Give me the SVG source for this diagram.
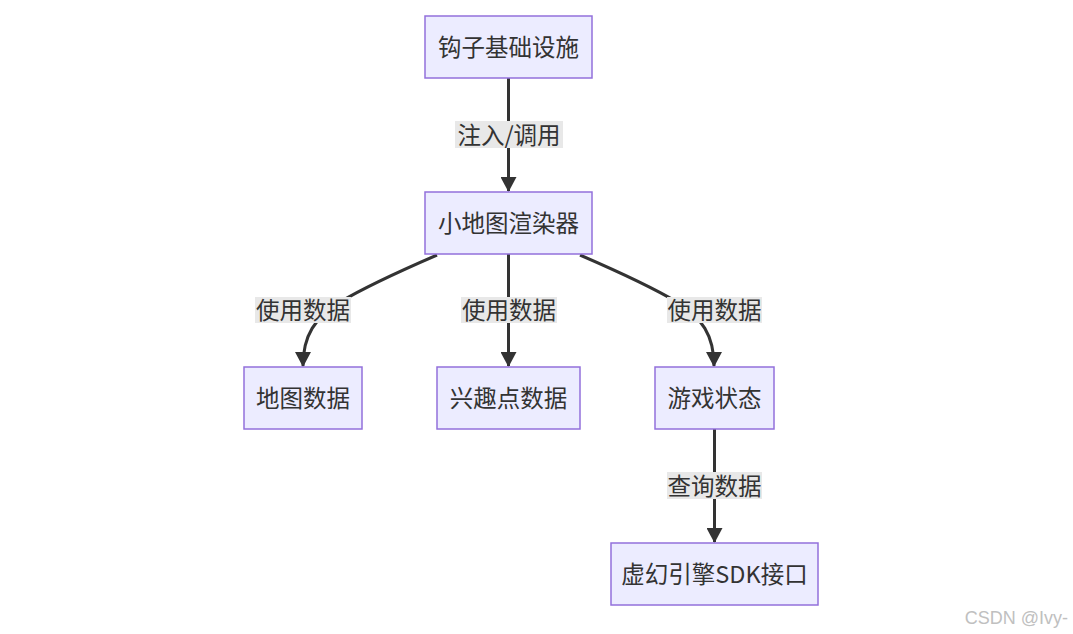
<svg xmlns="http://www.w3.org/2000/svg" width="1073" height="634" viewBox="0 0 1073 634">
<style>
.node rect{fill:#ECECFF;stroke:#9370DB;stroke-width:1.5}
.node text,.lbl text{font-family:"Noto Sans CJK SC","Noto Sans",sans-serif;font-size:23.5px;fill:#333;text-anchor:middle;dominant-baseline:central}
.edge{fill:none;stroke:#333;stroke-width:3;marker-end:url(#arr)}
.lbl rect{fill:#E8E8E8}
</style>
<defs>
<marker id="arr" markerUnits="userSpaceOnUse" markerWidth="15" markerHeight="16" viewBox="0 0 15 16" refX="14" refY="8" orient="auto">
<path d="M0,0 L15,8 L0,16 z" fill="#333"/>
</marker>
</defs>
<rect width="1073" height="634" fill="#fff"/>
<g id="edges">
<path class="edge" d="M508.5,78 L508.5,191"/>
<path class="edge" d="M437,255 C400,271 365,287 340,302 C315,318 303,335 303,366"/>
<path class="edge" d="M508.5,254 L508.5,366"/>
<path class="edge" d="M580,255 C617,271 652,287 677,302 C702,318 714,335 714,366"/>
<path class="edge" d="M714.5,429 L714.5,542"/>
</g>
<g id="edge-labels">
<g class="lbl"><rect x="455" y="121" width="108" height="27"/><text x="509" y="133.5">注入/调用</text></g>
<g class="lbl"><rect x="255" y="297" width="96" height="26"/><text x="303" y="309">使用数据</text></g>
<g class="lbl"><rect x="461" y="297" width="96" height="26"/><text x="509" y="309">使用数据</text></g>
<g class="lbl"><rect x="667" y="297" width="95" height="26"/><text x="714.5" y="309">使用数据</text></g>
<g class="lbl"><rect x="667" y="472" width="95" height="27"/><text x="714.5" y="484.5">查询数据</text></g>
</g>
<g id="hook" class="node"><rect x="425" y="16" width="167" height="62"/><text x="508.5" y="46">钩子基础设施</text></g>
<g id="renderer" class="node"><rect x="425" y="192" width="167" height="62"/><text x="508.5" y="222">小地图渲染器</text></g>
<g id="mapdata" class="node"><rect x="244" y="367" width="118" height="62"/><text x="303" y="397">地图数据</text></g>
<g id="poi" class="node"><rect x="437" y="367" width="143" height="62"/><text x="508.5" y="397">兴趣点数据</text></g>
<g id="gamestate" class="node"><rect x="655" y="367" width="119" height="62"/><text x="714.5" y="397">游戏状态</text></g>
<g id="sdk" class="node"><rect x="611" y="543" width="207" height="62"/><text x="714.5" y="573">虚幻引擎SDK接口</text></g>
<text x="1068" y="624" text-anchor="end" font-family="Liberation Sans, Arial, sans-serif" font-size="18" fill="#c0c0c0">CSDN @Ivy-</text>
</svg>
